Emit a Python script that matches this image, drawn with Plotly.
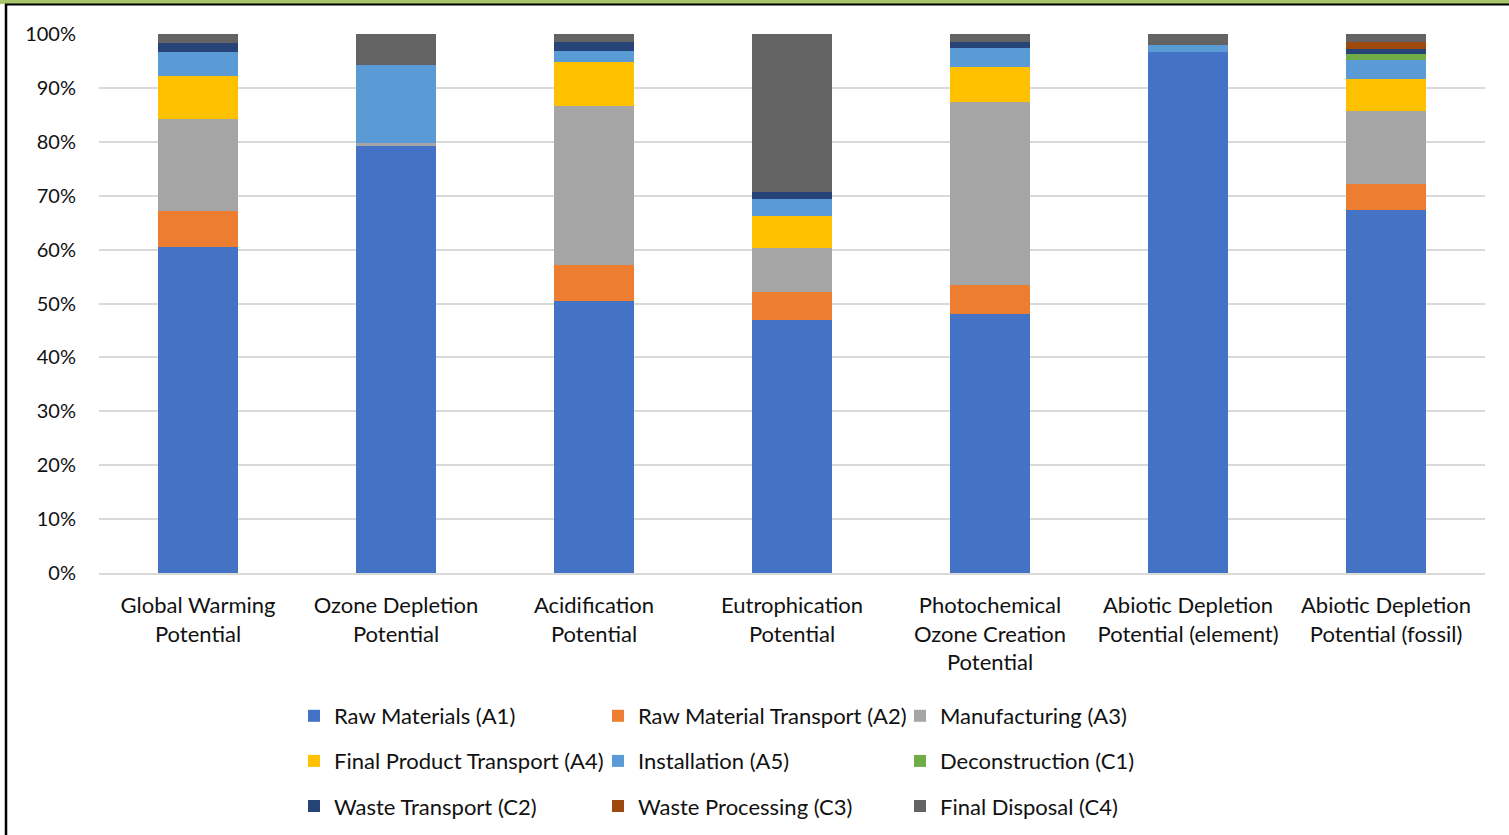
import plotly.graph_objects as go

categories = [
    "Global Warming<br>Potential",
    "Ozone Depletion<br>Potential",
    "Acidification<br>Potential",
    "Eutrophication<br>Potential",
    "Photochemical<br>Ozone Creation<br>Potential",
    "Abiotic Depletion<br>Potential (element)",
    "Abiotic Depletion<br>Potential (fossil)",
]

a1 = [60.5, 79.4, 50.5, 46.9, 48.1, 96.7, 67.3]
a2 = [6.7, 0.0, 6.7, 5.2, 5.3, 0.0, 4.9]
a3 = [17.0, 0.3, 29.5, 8.2, 34.0, 0.0, 13.5]
a4 = [8.0, 0.0, 8.1, 5.9, 6.4, 0.0, 6.0]
a5 = [4.4, 14.5, 2.1, 3.2, 3.6, 1.2, 3.4]
c1 = [0.0, 0.0, 0.0, 0.0, 0.0, 0.0, 1.1]
c2 = [1.7, 0.0, 1.7, 1.2, 1.2, 0.0, 1.1]
c3 = [0.0, 0.0, 0.0, 0.0, 0.0, 0.0, 1.2]
c4 = [1.7, 5.8, 1.5, 29.4, 1.4, 2.1, 1.5]

series_names = [
    "Raw Materials (A1)", "Raw Material Transport (A2)", "Manufacturing (A3)",
    "Final Product Transport (A4)", "Installation (A5)", "Deconstruction (C1)",
    "Waste Transport (C2)", "Waste Processing (C3)", "Final Disposal (C4)",
]
series_values = [a1, a2, a3, a4, a5, c1, c2, c3, c4]
colors = ["#4472C4", "#ED7D31", "#A5A5A5", "#FFC000", "#5B9BD5",
          "#70AD47", "#264478", "#9E480E", "#636363"]
legend_ids = ["legend", "legend2", "legend3"] * 3

FONT = "Lato"

fig = go.Figure()
for i, (name, vals, col) in enumerate(zip(series_names, series_values, colors)):
    fig.add_trace(go.Bar(
        x=categories, y=vals, name=name,
        marker=dict(color=col, line=dict(width=0)),
        width=0.4,
        legend=legend_ids[i],
        legendgroup=name,
    ))

# pixel -> paper helpers (plot area x 99..1485, y 34..573)
def px(x):
    return (x - 99) / 1386.0

def py(y):
    return (573 - y) / 539.0

legend_common = dict(
    orientation="v", xanchor="left", yanchor="top",
    font=dict(family=FONT, size=22, color="#111111"),
    bgcolor="rgba(0,0,0,0)", borderwidth=0, tracegroupgap=13.5,
    itemclick=False, itemdoubleclick=False,
)

fig.update_layout(
    width=1509, height=835,
    margin=dict(l=99, r=24, t=34, b=262, autoexpand=False),
    paper_bgcolor="white", plot_bgcolor="white",
    barmode="stack",
    bargap=0.6,
    font=dict(family=FONT, size=20, color="#111111"),
    legend=dict(x=px(294), y=py(695), **legend_common),
    legend2=dict(x=px(598), y=py(695), **legend_common),
    legend3=dict(x=px(900), y=py(695), **legend_common),
    yaxis=dict(
        range=[0, 100], tickvals=[0, 10, 20, 30, 40, 50, 60, 70, 80, 90, 100],
        ticktext=["0%", "10%", "20%", "30%", "40%", "50%", "60%", "70%", "80%", "90%", "100%"],
        showgrid=True, gridcolor="#D9D9D9", gridwidth=1.5,
        zeroline=False, showline=False, ticks="",
        ticklabelstandoff=22, automargin=False,
        tickfont=dict(family=FONT, size=20, color="#111111"),
    ),
    xaxis=dict(
        showgrid=False, zeroline=False, showline=True, linecolor="#D9D9D9", linewidth=1.5,
        ticks="", ticklabelstandoff=12, automargin=False,
        tickfont=dict(family=FONT, size=22, color="#111111"),
    ),
    shapes=[
        dict(type="rect", xref="paper", yref="paper",
             x0=px(0), x1=px(1509), y0=py(4), y1=py(0),
             fillcolor="#A9C46A", line=dict(width=0), layer="above"),
        dict(type="line", xref="paper", yref="paper",
             x0=px(5), x1=px(1509), y0=py(4.5), y1=py(4.5),
             line=dict(color="#000000", width=2), layer="above"),
        dict(type="line", xref="paper", yref="paper",
             x0=px(6), x1=px(6), y0=py(835), y1=py(4),
             line=dict(color="#000000", width=2.5), layer="above"),
    ],
)

fig.write_html(
    "out.html",
    config={"displayModeBar": False},
    post_script="document.body.style.margin='0';document.body.style.overflow='hidden';",
)
